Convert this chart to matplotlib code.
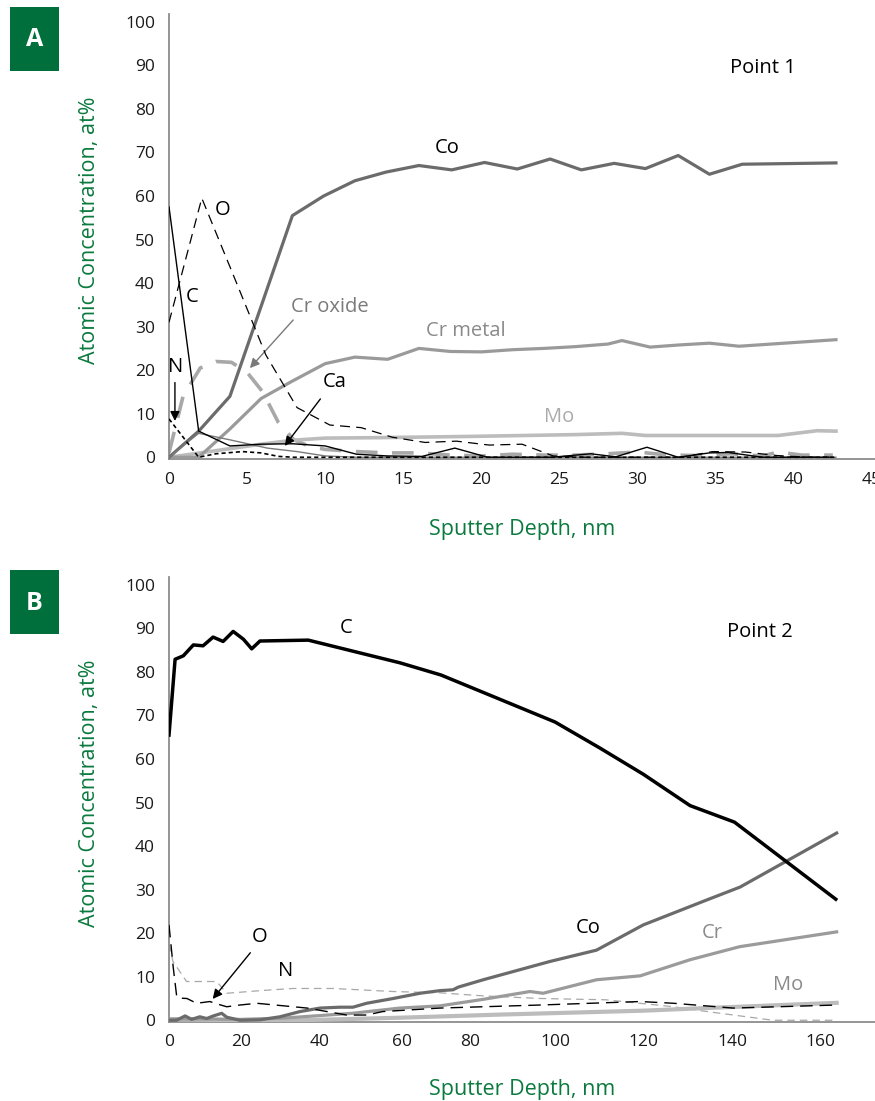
import numpy as np
import matplotlib
matplotlib.use('Agg')
import matplotlib.pyplot as plt
from matplotlib.patches import Rectangle

plt.rcParams['font.family'] = ['Open Sans', 'DejaVu Sans']

GREEN = '#0b7a3e'
BOX_GREEN = '#006f3b'

# ---------------- Panel A (Point 1) data ----------------
a_co_x = [0, 1.9, 3.9, 5.9, 7.9, 9.9, 11.9, 13.9, 16.0, 18.1, 20.2, 22.3, 24.4, 26.4, 28.5, 30.5, 32.6, 34.6, 36.7, 42.7]
a_co_y = [0, 6, 14, 34.7, 55.5, 60, 63.5, 65.5, 67, 66, 67.7, 66.2, 68.5, 66, 67.5, 66.3, 69.3, 65, 67.3, 67.6]

a_crm_x = [0, 1.9, 3.9, 5.9, 7.9, 10.0, 11.9, 14.0, 16.0, 18.0, 20.0, 22.0, 24.0, 26.0, 28.1, 29.0, 30.8, 32.7, 34.6, 36.5, 42.7]
a_crm_y = [0, 0, 6.5, 13.5, 17.5, 21.5, 23, 22.5, 25, 24.3, 24.2, 24.7, 25, 25.4, 26, 26.8, 25.3, 25.8, 26.2, 25.5, 27]

a_mo_x = [0, 2.0, 5.9, 7.9, 10.0, 13.4, 19.5, 26.0, 29.0, 30.5, 39.0, 41.5, 42.7]
a_mo_y = [0, 1.0, 3.0, 3.9, 4.4, 4.5, 4.8, 5.2, 5.5, 5.0, 5.0, 6.1, 6.0]

a_c_x = [0, 1.9, 3.9, 5.9, 7.9, 10.0, 12.0, 14.0, 16.2, 18.3, 20.4, 22.4, 24.5, 27.0, 28.6, 30.6, 32.6, 34.6, 35.8, 38.0, 42.2]
a_c_y = [57.5, 6.0, 2.6, 3.0, 3.1, 2.6, 0.7, 0.3, 0.2, 2.1, 0, 0, 0, 0.8, 0.1, 2.3, 0, 1.0, 1.1, 0, 0]

a_o_x = [0, 2.1, 4.1, 6.2, 8.2, 10.3, 12.3, 14.3, 16.4, 18.4, 20.5, 22.6, 24.6, 26.7, 28.7, 30.8, 32.8, 34.8, 36.9, 38.9, 41.0, 42.5]
a_o_y = [31, 59.5, 42, 23.5, 11.4, 7.4, 6.8, 4.6, 3.4, 3.7, 2.8, 3.0, 0.3, 0, 0, 0, 0, 1.3, 1.2, 0.4, 0, 0]

a_n_x = [0, 1.9, 3.0, 4.7, 5.9, 7.0, 8.0, 42.7]
a_n_y = [8.8, 0, 0.8, 1.3, 1.0, 0.2, 0, 0]

a_ca_x = [0, 1.9, 3.9, 6.3, 8.2, 10.0, 12.0, 42.7]
a_ca_y = [0, 5.5, 4.0, 2.1, 1.3, 0.3, 0, 0]

a_cro_x = [0, 0.9, 2.0, 3.0, 4.0, 5.0, 6.0, 7.0, 8.0, 9.0, 10.0, 12.0, 14.0, 16.0, 18.0, 20.0, 22.0, 24.0, 26.0, 28.0, 30.0, 32.0, 34.0, 36.0, 38.0, 39.0, 40.5, 42.5]
a_cro_y = [1, 14, 20.5, 22, 21.8, 19.5, 15, 8, 4, 2.5, 1.8, 1.3, 1.0, 1.0, 0.5, 0.3, 0.7, 0.5, 0.5, 0.8, 1.2, 0.5, 0.4, 0.8, 0.3, 1.2, 0.5, 0.5]

# ---------------- Panel B (Point 2) data ----------------
b_c_x = [0, 1.7, 4.0, 6.8, 9.5, 12.3, 15.1, 17.9, 20.7, 22.8, 24.9, 37.2, 59.4, 71.4, 100, 110.2, 120, 130.5, 140.5, 163.6]
b_c_y = [65.5, 82.9, 83.7, 86.2, 86.0, 88.0, 87.0, 89.3, 87.5, 85.3, 87.1, 87.3, 82.1, 79.3, 68.5, 62.5, 56.5, 49.3, 45.5, 27.8]

b_co_x = [0, 2.1, 4.5, 6.3, 8.6, 10.5, 12.4, 14.7, 16.1, 19.8, 24.9, 30.0, 35.1, 40.2, 45.0, 48.1, 51.4, 57.8, 65.2, 71.1, 75.0, 76.5, 83.1, 98.8, 109.4, 120, 134.2, 141.8, 163.8]
b_co_y = [0, 0, 1.0, 0.2, 0.8, 0.4, 1.0, 1.6, 0.7, 0, 0.1, 0.8, 2.0, 2.8, 3.0, 3.0, 3.9, 5.0, 6.2, 6.8, 7.0, 7.6, 9.3, 13.5, 16.1, 21.9, 27.6, 30.6, 43.0]

b_cr_x = [0, 10, 20, 31, 48, 59.4, 71.1, 83.1, 94.1, 97.2, 109.4, 119.3, 130.5, 141.7, 163.8]
b_cr_y = [0.3, 0.3, 0.2, 0.5, 1.6, 2.8, 3.3, 4.8, 6.6, 6.2, 9.3, 10.2, 13.9, 16.9, 20.3]

b_mo_x = [0, 20, 35, 60, 87, 120, 134, 163.8]
b_mo_y = [0.2, 0, 0, 0.6, 1.3, 2.2, 2.8, 4.0]

b_o_x = [0, 1.2, 2.1, 2.5, 5.0, 7.7, 11.4, 12.8, 16.1, 19.8, 24.1, 36.9, 46.6, 51.4, 55.3, 71.1, 96.5, 119.3, 126.8, 140.2, 163.8]
b_o_y = [21.9, 12.0, 5.8, 5.1, 5.0, 3.9, 4.3, 3.9, 3.1, 3.5, 3.9, 2.8, 1.2, 1.2, 2.0, 2.8, 3.5, 4.3, 3.9, 2.8, 3.5]

b_n_x = [0, 1.1, 4.9, 9.6, 13.3, 16.1, 24.9, 33.3, 43.3, 57.8, 71.1, 83.1, 96.5, 111.5, 126.8, 134.3, 149.3, 163.6]
b_n_y = [17.5, 13.5, 8.9, 8.9, 8.9, 6.2, 6.8, 7.3, 7.3, 6.6, 6.3, 5.6, 5.0, 4.7, 3.1, 2.0, 0, 0]

y_ticks = [0, 10, 20, 30, 40, 50, 60, 70, 80, 90, 100]
a_x_ticks = [0, 5, 10, 15, 20, 25, 30, 35, 40, 45]
b_x_ticks = [0, 20, 40, 60, 80, 100, 120, 140, 160]

# Panel B category-like axis: tick label spacing in the reference is uneven
B_SCALE_VALS = [-100, 0, 20, 40, 60, 80, 100, 120, 140, 160, 300]
B_SCALE_POS = [-189.5, 169, 240.7, 319.3, 402.3, 470, 555, 643.3, 732.3, 820, 1433.9]


def b_fwd(x):
    return np.interp(x, B_SCALE_VALS, B_SCALE_POS)


def b_inv(p):
    return np.interp(p, B_SCALE_POS, B_SCALE_VALS)


W, H = 875, 1101
fig = plt.figure(figsize=(W / 100, H / 100), dpi=100)
axA = fig.add_axes([169 / W, 1 - 459 / H, 706 / W, 445 / H])
axB = fig.add_axes([169 / W, 1 - 1022 / H, 706 / W, 445 / H])

SPINE = '#8c8c8c'
for ax, xl_y in ((axA, -0.135), (axB, -0.128)):
    for s in ('top', 'right'):
        ax.spines[s].set_visible(False)
    for s in ('left', 'bottom'):
        ax.spines[s].set_color(SPINE)
        ax.spines[s].set_linewidth(1.3)
    ax.set_ylim(-0.4, 101.8)
    ax.set_yticks(y_ticks)
    ax.tick_params(axis='both', length=0, labelsize=12.5, colors='#1a1a1a')
    ax.tick_params(axis='y', pad=10)
    ax.tick_params(axis='x', pad=9)
    ax.set_ylabel('Atomic Concentration, at%', color=GREEN, fontsize=15.5)
    ax.set_xlabel('Sputter Depth, nm', color=GREEN, fontsize=15.5)
    ax.yaxis.set_label_coords(-0.098, 0.513)
    ax.xaxis.set_label_coords(0.5, xl_y)
    ax.patch.set_alpha(0)

# ---- Panel A lines ----
axA.set_xlim(0, 45.2)
axA.set_xticks(a_x_ticks)
axA.plot(a_cro_x, a_cro_y, color='#a8a8a8', lw=2.6, dashes=(6, 4), zorder=2)
axA.plot(a_mo_x, a_mo_y, color='#bcbcbc', lw=2.6, zorder=2)
axA.plot(a_crm_x, a_crm_y, color='#9a9a9a', lw=2.3, zorder=3)
axA.plot(a_co_x, a_co_y, color='#6b6b6b', lw=2.3, zorder=4)
axA.plot(a_ca_x, a_ca_y, color='#7a7a7a', lw=1.0, zorder=4)
axA.plot(a_o_x, a_o_y, color='black', lw=0.9, dashes=(8, 5), zorder=5)
axA.plot(a_n_x, a_n_y, color='black', lw=1.2, dashes=(2.5, 1.8), zorder=5)
axA.plot(a_c_x, a_c_y, color='black', lw=1.0, zorder=5)

fs = 14.5
axA.text(17.8, 71.0, 'Co', fontsize=fs, color='black', ha='center', va='center')
axA.text(3.4, 56.8, 'O', fontsize=fs, color='black', ha='center', va='center')
axA.text(1.5, 36.8, 'C', fontsize=fs, color='black', ha='center', va='center')
axA.text(10.3, 34.5, 'Cr oxide', fontsize=fs, color='#7a7a7a', ha='center', va='center')
axA.annotate('', xy=(5.06, 20.0), xytext=(8.07, 32.0),
             arrowprops=dict(arrowstyle='-|>', color='#7a7a7a', lw=1.0, mutation_scale=14))
axA.text(19.0, 29.0, 'Cr metal', fontsize=fs, color='#8a8a8a', ha='center', va='center')
axA.text(0.45, 20.7, 'N', fontsize=fs, color='black', ha='center', va='center')
axA.annotate('', xy=(0.38, 7.7), xytext=(0.38, 17.8),
             arrowprops=dict(arrowstyle='-|>', color='black', lw=1.0, mutation_scale=14))
axA.text(10.6, 17.3, 'Ca', fontsize=fs, color='black', ha='center', va='center')
axA.annotate('', xy=(7.3, 2.1), xytext=(9.8, 13.9),
             arrowprops=dict(arrowstyle='-|>', color='black', lw=1.0, mutation_scale=14))
axA.text(25.0, 9.3, 'Mo', fontsize=fs, color='#ababab', ha='center', va='center')
axA.text(38.0, 89.4, 'Point 1', fontsize=fs, color='black', ha='center', va='center')

# ---- Panel B lines ----
axB.set_xscale('function', functions=(b_fwd, b_inv))
axB.set_xlim(0, float(b_inv(875)))
axB.set_xticks(b_x_ticks)
axB.set_xticklabels([str(v) for v in b_x_ticks])
axB.minorticks_off()
axB.plot(b_n_x, b_n_y, color='#a8a8a8', lw=0.9, dashes=(6, 4), zorder=2)
axB.plot(b_mo_x, b_mo_y, color='#bcbcbc', lw=3.0, zorder=3)
axB.plot(b_cr_x, b_cr_y, color='#9b9b9b', lw=2.3, zorder=3)
axB.plot(b_co_x, b_co_y, color='#6b6b6b', lw=2.3, zorder=4)
axB.plot(b_o_x, b_o_y, color='black', lw=1.0, dashes=(9, 5), zorder=5)
axB.plot(b_c_x, b_c_y, color='black', lw=2.5, zorder=6)

axB.text(46.4, 90.1, 'C', fontsize=fs, color='black', ha='center', va='center')
axB.text(146.3, 89.2, 'Point 2', fontsize=fs, color='black', ha='center', va='center')
axB.text(107.5, 21.2, 'Co', fontsize=fs, color='black', ha='center', va='center')
axB.text(135.4, 20.0, 'Cr', fontsize=fs, color='#8a8a8a', ha='center', va='center')
axB.text(152.7, 8.1, 'Mo', fontsize=fs, color='#8a8a8a', ha='center', va='center')
axB.text(24.9, 19.2, 'O', fontsize=fs, color='black', ha='center', va='center')
axB.annotate('', xy=(11.7, 4.4), xytext=(22.9, 16.0),
             arrowprops=dict(arrowstyle='-|>', color='black', lw=1.0, mutation_scale=14))
axB.text(31.5, 11.3, 'N', fontsize=fs, color='black', ha='center', va='center')

# ---- Panel letter boxes ----
for letter, ytop in (('A', 7), ('B', 570)):
    fig.patches.append(Rectangle((10 / W, 1 - (ytop + 64) / H), 49 / W, 64 / H,
                                 transform=fig.transFigure, facecolor=BOX_GREEN,
                                 edgecolor='none', zorder=1))
    fig.text(34.5 / W, 1 - (ytop + 33) / H, letter, color='white', fontsize=18,
             fontweight='bold', ha='center', va='center')

fig.savefig('out.png', dpi=100)
